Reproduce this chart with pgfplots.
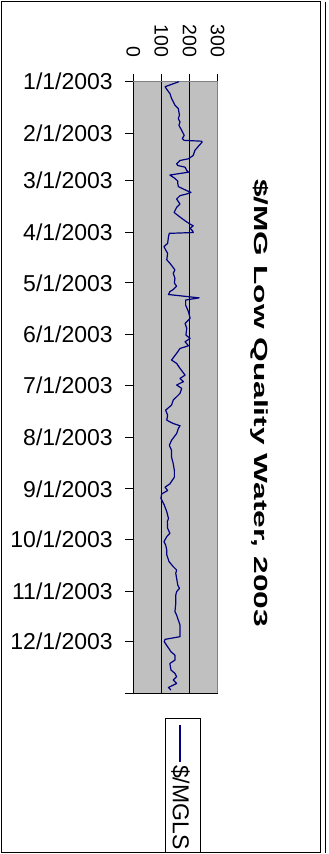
\documentclass[border=0pt]{standalone}
\usepackage{pgfplots}
\pgfplotsset{compat=1.18}
\usepackage{fontspec}
\setmainfont{Liberation Sans}
\definecolor{plotgray}{HTML}{C0C0C0}
\definecolor{seriesnavy}{HTML}{000080}
\definecolor{edgegray}{HTML}{808080}

% Daily price, day 0 = 1/1/2003
\pgfplotstableread{
day value
0 162
3 113
5 121
7 130
10 136
12 142
14 148
15 154
16 160
20 164
22 160
24 166
26 162
29 172
32 181
34 174
35 181
35.5 243
36 245
38 234
39 229
41 219
44 213
46 196
47 166
49 154
50 158
51 184
53 190
54 196
55.7 130
57.7 148
59.3 158
60.6 158
62.6 160
65 190
66 205
67 190
68 166
70 154
73 166
75 154
78 145
80 160
83 184
85 202
86 213
87.5 202
89 211
90 213
90.5 128
92.5 125
96.5 122
98.4 109
100.4 115
102.4 122
106.3 119
108.3 130
112.3 148
114.3 142
117.3 148
120.2 146
122 154
124 142
125.3 130
127 125
128.3 196
129 234
129.7 208
130.3 186
133.3 186
137.2 196
141.2 202
144.2 184
147.2 190
151.2 187
153.2 202
155.2 184
157.6 196
159.2 166
162.1 154
166.1 136
168.1 154
171.1 166
175.1 184
177.1 166
179 178
181 154
183 172
186 166
187 160
190 142
193 136
196 115
199 122
202 119
204 142
205.3 166
207 160
210 154
214 136
217 128
220 136
224 136
228 142
232 146
236 146
240 130
242 113
244 122
246 101
248.6 98
249.6 101
252.6 110
256.6 119
260.6 125
262.6 121
266.5 122
269.5 130
271.5 119
274.5 109
276.5 115
279.5 119
282.4 119
286.4 127
289.4 142
291.4 154
293.4 151
296.4 154
300.4 158
302.4 164
304.3 154
306.3 151
311.3 151
316.3 148
318.3 154
321.3 160
324.2 166
328.2 166
331.2 166
332.8 113
334.2 110
337.2 122
340.2 134
342.2 148
345.2 148
347.2 130
351.1 134
353.1 148
355.1 154
357.1 142
359.1 154
361.5 125
363.1 134
}\pricedata

\begin{document}
\begin{tikzpicture}[x=1pt,y=1pt]
\path[use as bounding box] (0,0) rectangle (329,-854);
% chart frame
\draw[line width=1pt] (1.5,-1.5) rectangle (320,-852.5);
\draw[line width=1pt] (325.5,-1.5) -- (325.5,-852.5);

\begin{axis}[
  at={(133.3pt,-81.7pt)}, anchor=north west,
  scale only axis, width=84.4pt, height=611.6pt,
  xmin=0, xmax=300, ymin=0, ymax=365, y dir=reverse,
  axis background/.style={fill=plotgray},
  axis line style={draw=edgegray, line width=0.8pt},
  xtick={0,100,200,300},
  xtick pos=upper, xticklabel pos=upper,
  ytick={0,31,59,90,120,151,181,212,243,273,304,334,365},
  yticklabels={1/1/2003,2/1/2003,3/1/2003,4/1/2003,5/1/2003,6/1/2003,7/1/2003,8/1/2003,9/1/2003,10/1/2003,11/1/2003,12/1/2003,{}},
  ytick pos=left,
  tick align=outside, major tick length=8pt,
  tick style={black, line width=0.8pt},
  xmajorgrids=true,
  grid style={black, line width=0.8pt},
  /pgf/number format/assume math mode=true,
  xticklabel style={font=\fontsize{19.5}{19.5}\selectfont, rotate=-90, anchor=east, xshift=-2pt},
  xticklabel shift=11pt,
  yticklabel style={font=\fontsize{23}{23}\selectfont, anchor=east},
  yticklabel shift=9pt,
  clip=false,
]
\addplot[seriesnavy, line width=1.2pt, line join=round] table[x=value, y=day] {\pricedata};
\draw[black, line width=0.8pt] (rel axis cs:0,1) -- (rel axis cs:0,0) -- (rel axis cs:1,0);
\end{axis}

% title
\node[rotate=-90, xscale=1.667, font=\bfseries\fontsize{19}{19}\selectfont] at (260,-403) {\$/MG Low Quality Water, 2003};

% legend
\draw[fill=white, line width=0.8pt] (165,-718) rectangle (200,-852);
\draw[seriesnavy, line width=1.4pt] (180,-725) -- (180,-762);
\node[rotate=-90, anchor=west, inner sep=0pt, font=\fontsize{23}{23}\selectfont] at (180.5,-765) {\$/MGLS};
\end{tikzpicture}
\end{document}
